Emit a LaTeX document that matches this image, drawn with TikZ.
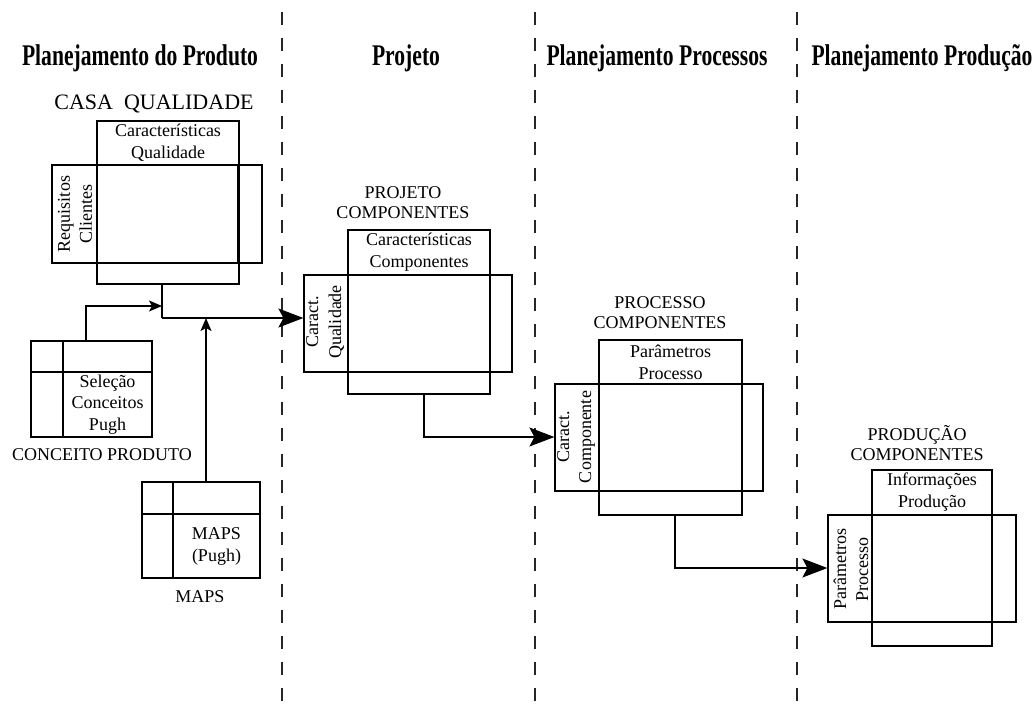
\documentclass[tikz,border=0pt]{standalone}
\usepackage{fontspec}
\setmainfont{Liberation Serif}
\newfontfamily\headfont[FakeStretch=0.72]{Liberation Serif}
\usetikzlibrary{arrows.meta}

\tikzset{
  cell/.style={draw, line width=1.2pt, inner sep=0pt, align=center,
               font=\fontsize{18}{22}\selectfont},
  lbl/.style={inner sep=0pt, align=center, font=\fontsize{18}{20}\selectfont},
  headlbl/.style={inner sep=0pt, anchor=base, font=\headfont\bfseries\fontsize{30}{30}\selectfont},
  lane/.style={line width=1.8pt, draw=black!85, dash pattern=on 13pt off 13pt},
  link/.style={line width=1.3pt},
  smallarrow/.style={link, -{Stealth[length=13pt, width=11pt, inset=3pt]}},
  bigarrow/.style={link, -{Stealth[length=25pt, width=19pt, inset=5pt]}},
  rot/.style={rotate=90}
}

\begin{document}
\begin{tikzpicture}[x=1pt, y=-1pt]
\useasboundingbox (0,0) rectangle (1035,705);

% column separators
\draw[lane] (282,12) -- (282,705);
\draw[lane] (535,12) -- (535,705);
\draw[lane] (797,12) -- (797,705);

% column headings
\node[headlbl] (h1) at (140,65) {Planejamento do Produto};
\node[headlbl] (h2) at (406,65) {Projeto};
\node[headlbl] (h3) at (657,65) {Planejamento Processos};
\node[headlbl] (h4) at (922,65) {Planejamento Produção};

% ---------- house of quality ----------
\node[lbl, font=\fontsize{22}{22}\selectfont] (casaTitle) at (154,104) {CASA\ \ QUALIDADE};
\node[cell, minimum width=142pt, minimum height=44pt] (casaTop) at (168,143) {Características\\Qualidade};
\node[cell, minimum width=142pt, minimum height=98pt] (casaMain) at (168,214) {};
\node[cell, minimum width=45pt, minimum height=98pt] (casaLeft) at (74.5,214) {};
\node[cell, minimum width=24pt, minimum height=98pt] (casaRight) at (250,214) {};
\node[cell, minimum width=142pt, minimum height=21pt] (casaBottom) at (168,273.5) {};
\node[lbl, rot, font=\fontsize{18}{22}\selectfont] (casaLeftText) at (75,214) {Requisitos\\Clientes};

% ---------- product concept ----------
\node[cell, minimum width=121pt, minimum height=96pt] (conc) at (91.5,389) {};
\coordinate (concV) at (63,0);
\coordinate (concH) at (0,372);
\draw[line width=1.2pt] (conc.north -| concV) -- (conc.south -| concV);
\draw[line width=1.2pt] (conc.west |- concH) -- (conc.east |- concH);
\node[lbl, font=\fontsize{18}{21.5}\selectfont] (concText) at (107.5,404.5) {Seleção\\Conceitos\\Pugh};
\node[lbl] (concLabel) at (102,455) {CONCEITO PRODUTO};

% ---------- MAPS ----------
\node[cell, minimum width=118pt, minimum height=96pt] (maps) at (201,530) {};
\coordinate (mapsV) at (173,0);
\coordinate (mapsH) at (0,514);
\draw[line width=1.2pt] (maps.north -| mapsV) -- (maps.south -| mapsV);
\draw[line width=1.2pt] (maps.west |- mapsH) -- (maps.east |- mapsH);
\node[lbl, font=\fontsize{18}{22}\selectfont] (mapsText) at (216.5,546) {MAPS\\(Pugh)};
\node[lbl] (mapsLabel) at (200,597) {MAPS};

% ---------- component design ----------
\node[lbl] (projTitle) at (403,203) {PROJETO\\COMPONENTES};
\node[cell, minimum width=142pt, minimum height=45pt] (projTop) at (419,252.5) {Características\\Componentes};
\node[cell, minimum width=142pt, minimum height=97pt] (projMain) at (419,323.5) {};
\node[cell, minimum width=44pt, minimum height=97pt] (projLeft) at (326,323.5) {};
\node[cell, minimum width=22pt, minimum height=97pt] (projRight) at (501,323.5) {};
\node[cell, minimum width=142pt, minimum height=22pt] (projBottom) at (419,383) {};
\node[lbl, rot, font=\fontsize{18}{23}\selectfont] (projLeftText) at (325,322) {Caract.\\Qualidade};

% ---------- process planning ----------
\node[lbl] (procTitle) at (660,313) {PROCESSO\\COMPONENTES};
\node[cell, minimum width=143pt, minimum height=44pt] (procTop) at (670.5,362) {Parâmetros\\Processo};
\node[cell, minimum width=143pt, minimum height=107pt] (procMain) at (670.5,437.5) {};
\node[cell, minimum width=44pt, minimum height=107pt] (procLeft) at (577,437.5) {};
\node[cell, minimum width=21pt, minimum height=107pt] (procRight) at (752.5,437.5) {};
\node[cell, minimum width=143pt, minimum height=24pt] (procBottom) at (670.5,503) {};
\node[lbl, rot, font=\fontsize{18}{22}\selectfont] (procLeftText) at (576,437) {Caract.\\Componente};

% ---------- production planning ----------
\node[lbl] (prodTitle) at (917,443) {PRODUÇÃO\\COMPONENTES};
\node[cell, minimum width=120pt, minimum height=45pt] (prodTop) at (932,492.5) {Informações\\Produção};
\node[cell, minimum width=120pt, minimum height=107pt] (prodMain) at (932,568.5) {};
\node[cell, minimum width=44pt, minimum height=107pt] (prodLeft) at (850,568.5) {};
\node[cell, minimum width=24pt, minimum height=107pt] (prodRight) at (1004,568.5) {};
\node[cell, minimum width=120pt, minimum height=24pt] (prodBottom) at (932,634) {};
\node[lbl, rot, font=\fontsize{18}{22}\selectfont] (prodLeftText) at (851,569) {Parâmetros\\Processo};

% ---------- connectors ----------
\coordinate (j1) at (162,318);
\coordinate (c1) at (86,306);
\coordinate (m1) at (206,0);
\coordinate (j2) at (424,437);
\coordinate (j3) at (675,568);

\draw[link] (casaBottom.south -| j1) -- (j1);
\draw[bigarrow] (j1) -- (j1 -| projLeft.west);
\draw[smallarrow] (conc.north -| c1) -- (c1) -- (c1 -| j1);
\draw[smallarrow] (maps.north -| m1) -- (m1 |- j1);
\draw[bigarrow] (projBottom.south -| j2) -- (j2) -- (j2 -| procLeft.west);
\draw[bigarrow] (procBottom.south -| j3) -- (j3) -- (j3 -| prodLeft.west);
\end{tikzpicture}
\end{document}
